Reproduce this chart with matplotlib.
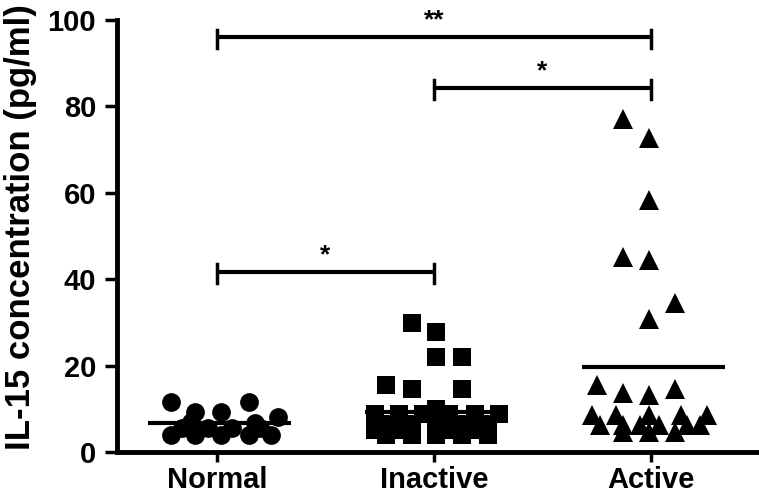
import matplotlib
matplotlib.use("Agg")
import matplotlib.pyplot as plt
import numpy as np

plt.rcParams['font.family'] = ['Liberation Sans', 'DejaVu Sans']
plt.rcParams['font.weight'] = 'bold'

# data
groups = ["Normal", "Inactive", "Active"]

normal_vals = [11.6, 9.3, 9.3, 11.6, 8.2, 6.6, 7.0,
               3.9, 3.9, 3.9, 3.9, 3.9,
               5.5, 5.5, 5.5, 5.5]
normal_off = [-0.21, -0.10, 0.02, 0.145, 0.28, 0.175, -0.12,
              -0.21, -0.10, 0.02, 0.145, 0.25,
              -0.16, -0.04, 0.07, 0.20]

inactive_vals = [29.8, 27.8, 21.9, 21.9, 15.5, 14.5, 14.5,
                 10.0,
                 8.8, 8.8, 8.8, 8.8, 8.8, 8.8,
                 6.5, 6.5, 6.5, 6.5, 6.5,
                 5.2, 5.2, 5.2, 5.2,
                 4.0, 4.0, 4.0, 4.0, 4.0]
inactive_off = [-0.10, 0.01, 0.01, 0.13, -0.22, -0.10, 0.13,
                0.01,
                -0.27, -0.16, -0.05, 0.07, 0.19, 0.30,
                -0.22, -0.10, 0.01, 0.13, 0.25,
                -0.27, -0.16, 0.07, 0.19,
                -0.22, -0.10, 0.01, 0.13, 0.25]

active_vals = [77.2, 72.6, 58.3, 45.2, 44.4, 34.4, 30.7,
               15.5, 13.6, 13.2, 14.5,
               8.6, 8.6, 8.6, 8.6, 8.6,
               6.2, 6.2, 6.2, 6.2, 6.2, 6.2,
               4.7, 4.7, 4.7]
active_off = [-0.13, -0.01, -0.01, -0.13, -0.01, 0.11, -0.01,
              -0.25, -0.13, -0.01, 0.11,
              -0.27, -0.16, -0.01, 0.14, 0.26,
              -0.235, -0.13, -0.05, 0.035, 0.165, 0.225,
              -0.13, -0.01, 0.11]

means = [6.6, 9.3, 19.6]

# significance brackets: (from group, to group, height, label)
brackets = [(1, 3, 96.0, "**"), (2, 3, 84.3, "*"), (1, 2, 41.7, "*")]

fig = plt.figure(figsize=(7.59, 4.93), dpi=100)
ax = fig.add_axes([0.1542, 0.0832, 0.8458, 0.876])

markers = ["o", "s", "^"]
sizes = [13.5, 13.5, 14.5]
all_vals = [normal_vals, inactive_vals, active_vals]
all_off = [normal_off, inactive_off, active_off]

for i in range(3):
    x = i + 1 + np.array(all_off[i])
    ax.plot(x, all_vals[i], linestyle="none", marker=markers[i],
            markersize=sizes[i], color="black", markeredgewidth=0, clip_on=False)
    # mean line
    ax.plot([i + 1 - 0.32, i + 1 + 0.34], [means[i], means[i]], color="black", lw=3,
            solid_capstyle="butt")

for g1, g2, h, lab in brackets:
    ax.plot([g1, g2], [h, h], color="black", lw=3, solid_capstyle="butt", clip_on=False)
    ax.plot([g1, g1], [h - 2.5, h + 1.8], color="black", lw=2.5, clip_on=False)
    ax.plot([g2, g2], [h - 2.5, h + 1.8], color="black", lw=2.5, clip_on=False)
    ax.text((g1 + g2) / 2, h + 2.3, lab, ha="center", va="baseline", fontsize=19,
            fontweight="bold", clip_on=False)

ax.set_xlim(0.539, 3.498)
ax.set_ylim(0, 100)
ax.set_xticks([1, 2, 3])
ax.set_xticklabels(groups)
ax.set_yticks(np.arange(0, 101, 20))

ax.spines["top"].set_visible(False)
ax.spines["right"].set_visible(False)
ax.spines["left"].set_linewidth(3.5)
ax.spines["bottom"].set_linewidth(3.5)
ax.tick_params(axis="x", direction="out", length=7, width=2.5, labelsize=21, pad=3)
ax.tick_params(axis="y", direction="out", length=9, width=2.5, labelsize=21, pad=6)
for lbl in ax.get_xticklabels() + ax.get_yticklabels():
    lbl.set_fontweight("bold")

ax.set_ylabel("IL-15 concentration (pg/ml)", fontsize=25, fontweight="bold")
ax.yaxis.set_label_coords(-0.125, 0.52)

fig.savefig("out.png", dpi=100)
